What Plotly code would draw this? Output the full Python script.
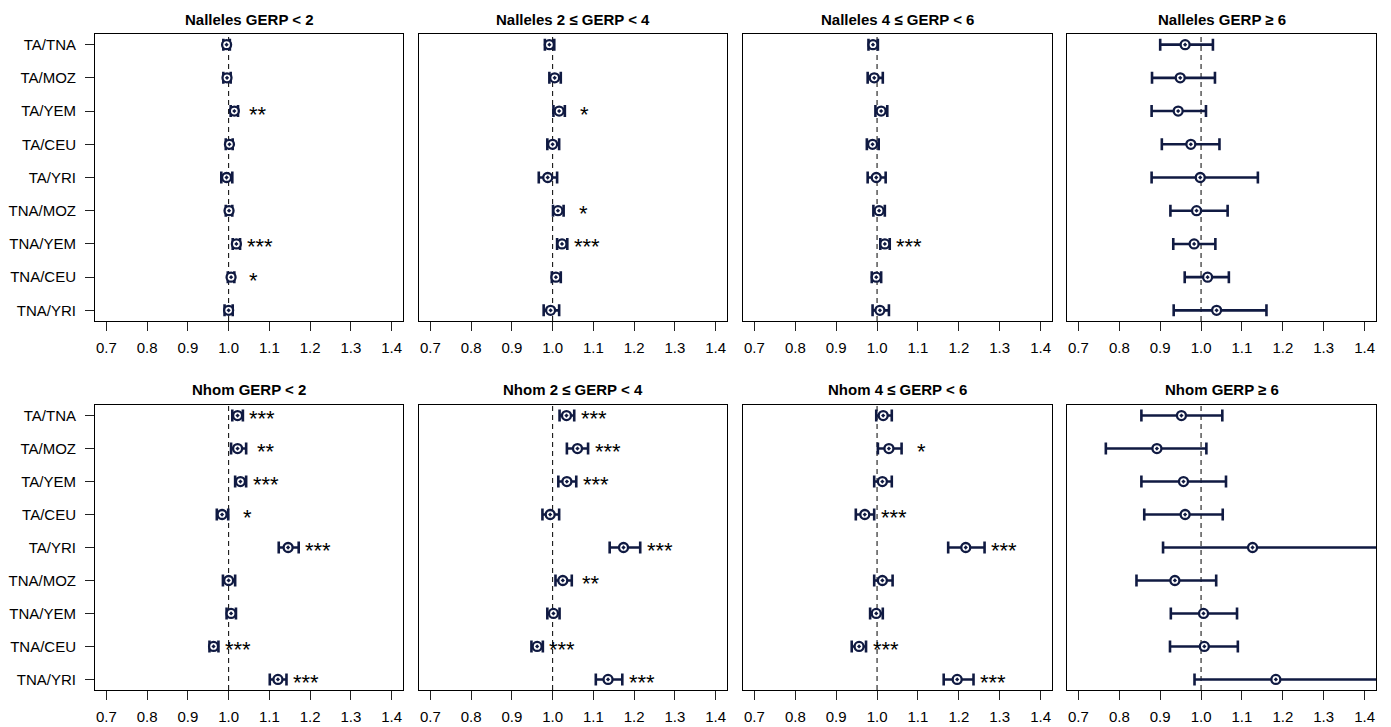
import plotly.graph_objects as go

W, H = 1391, 727

comparisons = ["TA/TNA", "TA/MOZ", "TA/YEM", "TA/CEU", "TA/YRI",
               "TNA/MOZ", "TNA/YEM", "TNA/CEU", "TNA/YRI"]

x_ticks = [0.7, 0.8, 0.9, 1.0, 1.1, 1.2, 1.3, 1.4]
x_tick_text = ["0.7", "0.8", "0.9", "1.0", "1.1", "1.2", "1.3", "1.4"]

panel_titles = [
    "Nalleles GERP < 2", "Nalleles 2 ≤ GERP < 4",
    "Nalleles 4 ≤ GERP < 6", "Nalleles GERP ≥ 6",
    "Nhom GERP < 2", "Nhom 2 ≤ GERP < 4",
    "Nhom 4 ≤ GERP < 6", "Nhom GERP ≥ 6",
]

# Nalleles, GERP < 2
nal_lt2_est = [0.995, 0.996, 1.014, 1.002, 0.995, 1.001, 1.019, 1.006, 1.000]
nal_lt2_lo = [0.987, 0.987, 1.005, 0.993, 0.982, 0.993, 1.010, 0.998, 0.990]
nal_lt2_hi = [1.003, 1.005, 1.023, 1.010, 1.009, 1.009, 1.028, 1.014, 1.010]
nal_lt2_sig = ["", "", "**", "", "", "", "***", "*", ""]

# Nalleles, 2 <= GERP < 4
nal_2to4_est = [0.992, 1.005, 1.016, 1.000, 0.988, 1.013, 1.023, 1.008, 0.995]
nal_2to4_lo = [0.981, 0.992, 1.002, 0.987, 0.966, 1.001, 1.011, 0.998, 0.978]
nal_2to4_hi = [1.004, 1.020, 1.030, 1.016, 1.011, 1.027, 1.036, 1.020, 1.016]
nal_2to4_sig = ["", "", "*", "", "", "*", "***", "", ""]

# Nalleles, 4 <= GERP < 6
nal_4to6_est = [0.990, 0.993, 1.010, 0.989, 0.998, 1.005, 1.019, 0.998, 1.007]
nal_4to6_lo = [0.979, 0.977, 0.996, 0.975, 0.977, 0.991, 1.008, 0.987, 0.989]
nal_4to6_hi = [1.002, 1.014, 1.025, 1.004, 1.021, 1.019, 1.031, 1.010, 1.029]
nal_4to6_sig = ["", "", "", "", "", "", "***", "", ""]

# Nalleles, GERP >= 6
nal_ge6_est = [0.961, 0.949, 0.944, 0.975, 0.998, 0.989, 0.983, 1.016, 1.038]
nal_ge6_lo = [0.900, 0.880, 0.879, 0.904, 0.879, 0.925, 0.932, 0.960, 0.933]
nal_ge6_hi = [1.029, 1.034, 1.012, 1.045, 1.139, 1.065, 1.035, 1.068, 1.160]
nal_ge6_sig = ["", "", "", "", "", "", "", "", ""]

# Nhom, GERP < 2
hom_lt2_est = [1.022, 1.022, 1.029, 0.984, 1.146, 1.000, 1.006, 0.963, 1.121]
hom_lt2_lo = [1.009, 1.006, 1.016, 0.971, 1.123, 0.986, 0.995, 0.953, 1.101]
hom_lt2_hi = [1.035, 1.043, 1.043, 0.999, 1.172, 1.016, 1.018, 0.975, 1.142]
hom_lt2_sig = ["***", "**", "***", "*", "***", "", "", "***", "***"]

# Nhom, 2 <= GERP < 4
hom_2to4_est = [1.034, 1.061, 1.035, 0.994, 1.174, 1.025, 1.002, 0.962, 1.136]
hom_2to4_lo = [1.017, 1.035, 1.014, 0.975, 1.140, 1.007, 0.987, 0.948, 1.106]
hom_2to4_hi = [1.053, 1.087, 1.058, 1.016, 1.215, 1.047, 1.017, 0.976, 1.171]
hom_2to4_sig = ["***", "***", "***", "", "***", "**", "", "***", "***"]

# Nhom, 4 <= GERP < 6
hom_4to6_est = [1.015, 1.029, 1.013, 0.970, 1.217, 1.013, 0.998, 0.956, 1.196]
hom_4to6_lo = [0.998, 1.002, 0.993, 0.948, 1.174, 0.993, 0.983, 0.938, 1.163]
hom_4to6_hi = [1.036, 1.060, 1.036, 0.993, 1.263, 1.038, 1.014, 0.973, 1.236]
hom_4to6_sig = ["", "*", "", "***", "***", "", "", "***", "***"]

# Nhom, GERP >= 6
hom_ge6_est = [0.952, 0.892, 0.957, 0.961, 1.126, 0.936, 1.006, 1.008, 1.183]
hom_ge6_lo = [0.854, 0.767, 0.854, 0.861, 0.907, 0.842, 0.926, 0.924, 0.984]
hom_ge6_hi = [1.052, 1.013, 1.061, 1.053, 1.470, 1.037, 1.088, 1.090, 1.500]
hom_ge6_sig = ["", "", "", "", "", "", "", "", ""]

panels = [
    (nal_lt2_est, nal_lt2_lo, nal_lt2_hi, nal_lt2_sig),
    (nal_2to4_est, nal_2to4_lo, nal_2to4_hi, nal_2to4_sig),
    (nal_4to6_est, nal_4to6_lo, nal_4to6_hi, nal_4to6_sig),
    (nal_ge6_est, nal_ge6_lo, nal_ge6_hi, nal_ge6_sig),
    (hom_lt2_est, hom_lt2_lo, hom_lt2_hi, hom_lt2_sig),
    (hom_2to4_est, hom_2to4_lo, hom_2to4_hi, hom_2to4_sig),
    (hom_4to6_est, hom_4to6_lo, hom_4to6_hi, hom_4to6_sig),
    (hom_ge6_est, hom_ge6_lo, hom_ge6_hi, hom_ge6_sig),
]

NAVY = "#101a42"
FONT = "Liberation Sans, Arial, Helvetica, sans-serif"

# panel boxes in pixels
col_px = [(95, 403), (419, 727), (743, 1052), (1067, 1376)]
row_px = [(34, 321), (405, 690)]
title_px = [20, 389]

x_range = [0.672, 1.428]
y_pos = list(range(1, len(comparisons) + 1))
y_range = [len(comparisons) + 0.32, 0.68]

fig = go.Figure()
annotations = []
shapes = []

for i, (est, lo, hi, sig) in enumerate(panels):
    r, c = divmod(i, 4)
    suffix = "" if i == 0 else str(i + 1)
    xa, ya = "x" + suffix, "y" + suffix
    x0, x1 = col_px[c]
    y0, y1 = row_px[r]
    xdom = [x0 / W, x1 / W]
    ydom = [1 - y1 / H, 1 - y0 / H]

    fig.add_trace(go.Scatter(
        x=est, y=y_pos, xaxis=xa, yaxis=ya, mode="markers",
        marker=dict(symbol="circle-dot", size=9, color="white",
                    line=dict(color=NAVY, width=2.3)),
        error_x=dict(type="data", symmetric=False,
                     array=[h - e for h, e in zip(hi, est)],
                     arrayminus=[e - l for e, l in zip(est, lo)],
                     color=NAVY, thickness=2.6, width=6),
        showlegend=False, hoverinfo="skip",
    ))

    fig.layout["xaxis" + suffix] = dict(
        domain=xdom, anchor=ya, range=x_range,
        tickmode="array", tickvals=x_ticks, ticktext=x_tick_text,
        ticks="outside", ticklen=9, tickwidth=1, tickcolor="#222",
        showline=True, mirror=True, linecolor="black", linewidth=1,
        showgrid=False, zeroline=False, ticklabelstandoff=4,
        tickfont=dict(family=FONT, size=15, color="black"),
    )
    first_col = (c == 0)
    fig.layout["yaxis" + suffix] = dict(
        domain=ydom, anchor=xa, range=y_range,
        tickmode="array", tickvals=y_pos,
        ticktext=comparisons if first_col else [""] * len(comparisons),
        ticks="outside" if first_col else "", ticklen=9, tickwidth=1,
        tickcolor="#222",
        showline=True, mirror=True, linecolor="black", linewidth=1,
        showgrid=False, zeroline=False, ticklabelstandoff=6,
        tickfont=dict(family=FONT, size=15, color="black"),
    )

    # reference line at ratio 1
    shapes.append(dict(
        type="line", xref=xa, yref=ya + " domain", x0=1.0, x1=1.0, y0=0, y1=1,
        line=dict(color="black", width=1, dash="5px,4px"), layer="below",
    ))

    # significance stars
    for k, s in enumerate(sig):
        if s:
            annotations.append(dict(
                x=hi[k] + 0.048, y=y_pos[k], xref=xa, yref=ya, text=s,
                showarrow=False, xanchor="center", yanchor="middle", yshift=-3,
                font=dict(family=FONT, size=22, color="black"),
            ))

    annotations.append(dict(
        x=(xdom[0] + xdom[1]) / 2, y=1 - title_px[r] / H,
        xref="paper", yref="paper", text="<b>" + panel_titles[i] + "</b>",
        showarrow=False, xanchor="center", yanchor="middle",
        font=dict(family=FONT, size=15, color="black"),
    ))

fig.update_layout(
    width=W, height=H,
    margin=dict(l=0, r=0, t=0, b=0),
    paper_bgcolor="white", plot_bgcolor="white",
    annotations=annotations, shapes=shapes,
)

fig.write_html("out.html")
